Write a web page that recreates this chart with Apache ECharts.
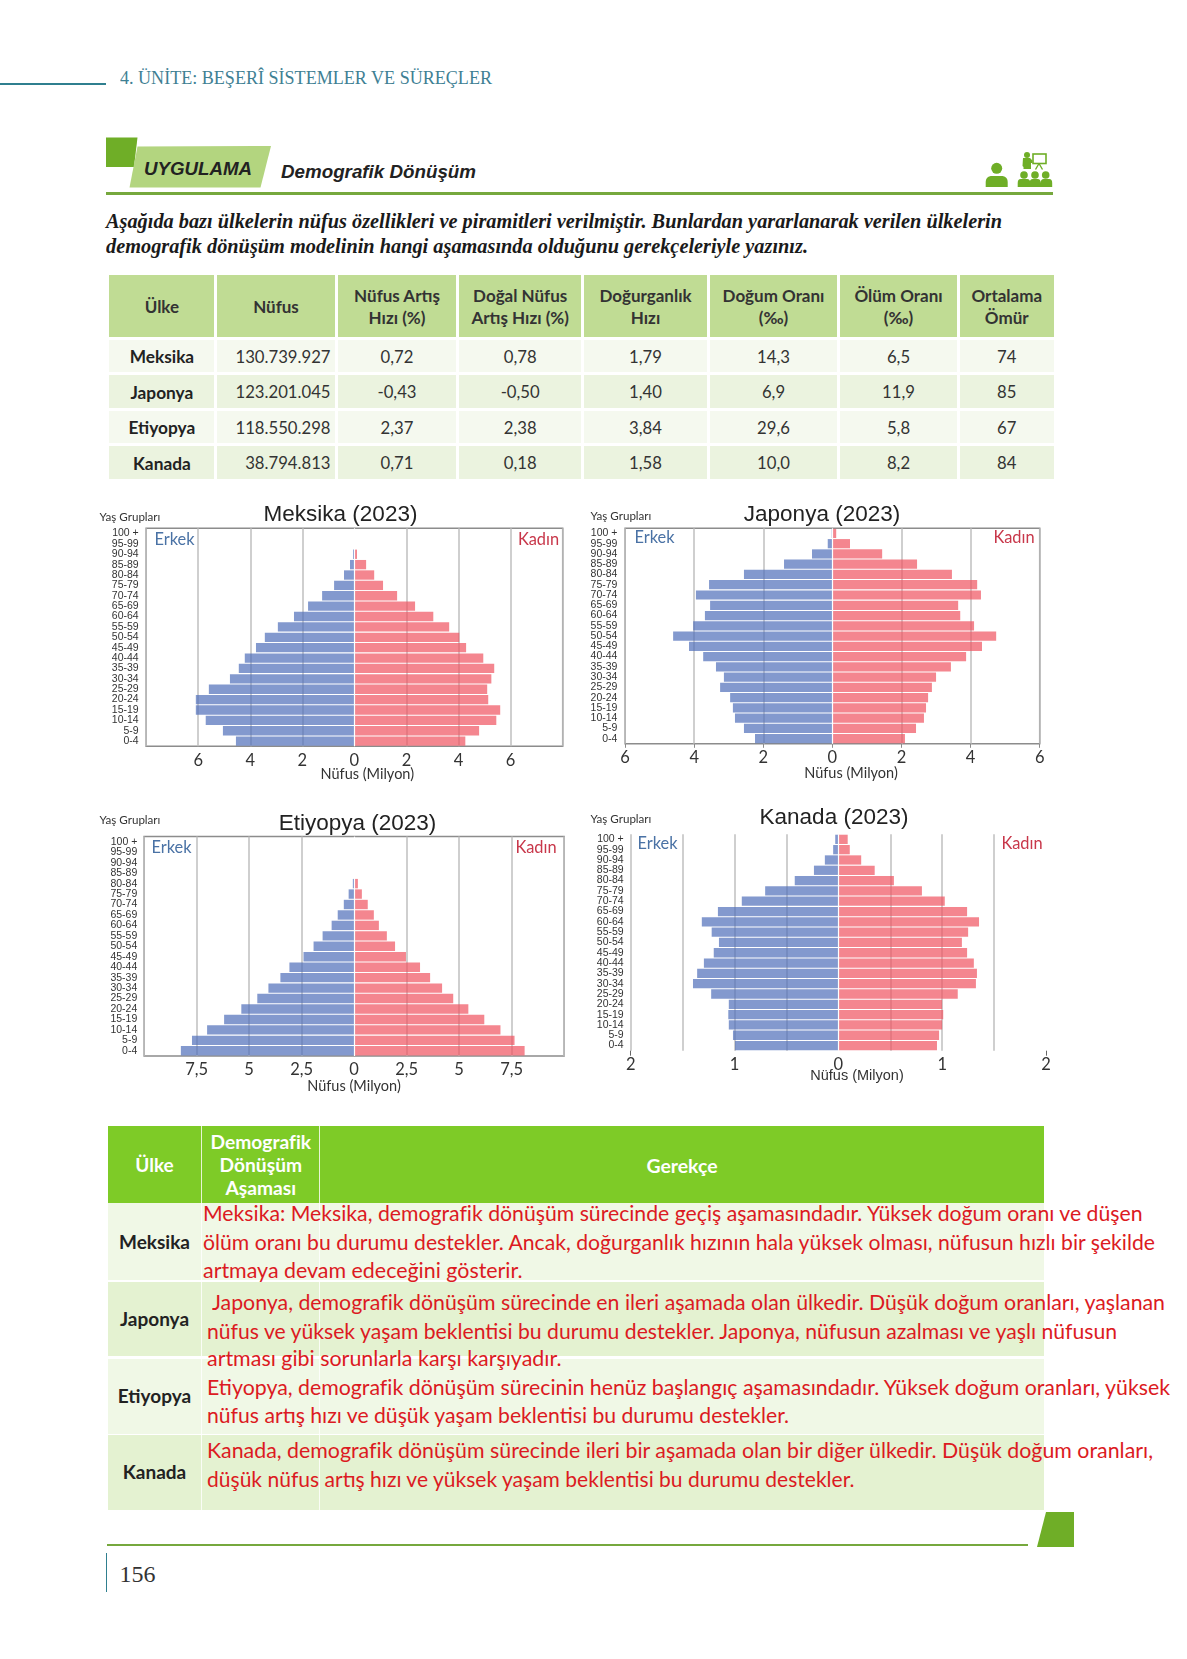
<!DOCTYPE html>
<html lang="tr">
<head>
<meta charset="utf-8">
<style>
html,body{margin:0;padding:0;background:#fff;}
#page{position:relative;width:1187px;height:1659px;overflow:hidden;background:#fff;}
#chart{position:absolute;left:0;top:0;width:1187px;height:1659px;}
.t{position:absolute;white-space:pre;}
.b{position:absolute;}
svg{position:absolute;left:0;top:0;}
</style>
</head>
<body>
<div id="page">
<svg width="1187" height="1659" id="deco">
  <polygon points="106,137.5 137.5,137.5 134,167 106,167" fill="#6fae27"/>
  <polygon points="137.5,146.5 271,146 260.5,187.5 129.5,187.5" fill="#b3d57f"/>
  <polygon points="1046,1512 1074,1512 1074,1547 1037,1547" fill="#6fae27"/>
  <g fill="#6fae27">
    <!-- person -->
    <circle cx="996.700" cy="168.300" r="5.500"/>
    <path d="M985.700 187v-5q0-5 5-6h12q5 1 5 6v5z"/>
    <!-- presenter -->
    <circle cx="1027" cy="155" r="3"/>
    <path d="M1023 158h7l2.500 2.500v2.500h-1.500v6h-7.500v-2l-1-1z"/>
    <!-- listeners -->
    <circle cx="1024" cy="175" r="3.800"/><circle cx="1035" cy="175" r="3.800"/><circle cx="1045.700" cy="175" r="3.800"/>
    <path d="M1017.700 187v-4q0-4 3-4h6.500q3 0 3 4v4zM1029.700 187v-4q0-4 3-4h5q3 0 3 4v4zM1040.700 187v-4q0-4 3-4h5.500q3 0 3 4v4z"/>
  </g>
  <rect x="1033" y="154" width="13" height="9.500" fill="#fff" stroke="#6fae27" stroke-width="1.600"/>
  <path d="M1039 163.500l-3.500 6M1039 163.500l3.500 6" stroke="#6fae27" stroke-width="1.400" fill="none"/>
</svg>
<div id="chart"></div>
</div>
<script src="https://cdn.jsdelivr.net/npm/echarts@6/dist/echarts.min.js"></script>
<script>
// ---------- chart values (millions), top row = oldest group ----------
const ageGroups = ['100 +','95-99','90-94','85-89','80-84','75-79','70-74','65-69','60-64','55-59','50-54','45-49','40-44','35-39','30-34','25-29','20-24','15-19','10-14','5-9','0-4'];
const meksikaErkek = [0,0,0.05,0.17,0.40,0.78,1.24,1.78,2.32,2.94,3.44,3.78,4.21,4.44,4.78,5.59,6.09,6.09,5.71,5.05,4.55];
const meksikaKadin = [0,0,0.10,0.45,0.76,1.10,1.64,2.33,3.03,3.64,4.03,4.29,4.95,5.37,5.26,5.10,5.14,5.60,5.45,4.79,4.26];
const japonyaErkek = [0.02,0.135,0.59,1.40,2.56,3.57,3.95,3.54,3.69,4.03,4.61,4.15,3.74,3.37,3.14,3.25,2.96,2.88,2.82,2.56,2.24];
const japonyaKadin = [0.11,0.51,1.44,2.45,3.46,4.19,4.30,3.64,3.70,4.10,4.74,4.33,3.87,3.43,3.00,2.88,2.77,2.71,2.65,2.42,2.10];
const etiyopyaErkek = [0,0,0,0,0.06,0.26,0.49,0.78,1.07,1.50,1.93,2.41,3.08,3.51,4.08,4.61,5.37,6.19,7.00,7.72,8.25];
const etiyopyaKadin = [0,0,0,0,0.18,0.37,0.65,0.94,1.18,1.56,1.95,2.47,3.14,3.62,4.19,4.72,5.44,6.20,6.97,7.64,8.12];
const kanadaErkek = [0.03,0.05,0.13,0.235,0.42,0.705,0.93,1.16,1.315,1.22,1.15,1.20,1.295,1.36,1.40,1.225,1.055,1.06,1.055,1.015,0.995];
const kanadaKadin = [0.09,0.11,0.22,0.35,0.535,0.805,1.025,1.24,1.355,1.25,1.19,1.24,1.305,1.335,1.325,1.15,1.00,1.01,1.00,0.97,0.95];
// ---------- table values ----------
const tableHead = [['Ülke'],['Nüfus'],['Nüfus Artış','Hızı (%)'],['Doğal Nüfus','Artış Hızı (%)'],['Doğurganlık','Hızı'],['Doğum Oranı','(‰)'],['Ölüm Oranı','(‰)'],['Ortalama','Ömür']];
const tableRows = [
  ['Meksika','130.739.927','0,72','0,78','1,79','14,3','6,5','74'],
  ['Japonya','123.201.045','-0,43','-0,50','1,40','6,9','11,9','85'],
  ['Etiyopya','118.550.298','2,37','2,38','3,84','29,6','5,8','67'],
  ['Kanada','38.794.813','0,71','0,18','1,58','10,0','8,2','84']
];
const reasonLines = [
  'Meksika: Meksika, demografik dönüşüm sürecinde geçiş aşamasındadır. Yüksek doğum oranı ve düşen',
  'ölüm oranı bu durumu destekler. Ancak, doğurganlık hızının hala yüksek olması, nüfusun hızlı bir şekilde',
  'artmaya devam edeceğini gösterir.',
  'Japonya, demografik dönüşüm sürecinde en ileri aşamada olan ülkedir. Düşük doğum oranları, yaşlanan',
  'nüfus ve yüksek yaşam beklentisi bu durumu destekler. Japonya, nüfusun azalması ve yaşlı nüfusun',
  'artması gibi sorunlarla karşı karşıyadır.',
  'Etiyopya, demografik dönüşüm sürecinin henüz başlangıç aşamasındadır. Yüksek doğum oranları, yüksek',
  'nüfus artış hızı ve düşük yaşam beklentisi bu durumu destekler.',
  'Kanada, demografik dönüşüm sürecinde ileri bir aşamada olan bir diğer ülkedir. Düşük doğum oranları,',
  'düşük nüfus artış hızı ve yüksek yaşam beklentisi bu durumu destekler.'
];

// ---------- page furniture ----------
const page = document.getElementById('page');
const deco = document.getElementById('chart');
const LATO = 'Lato, "Open Sans", sans-serif', SANS = '"Liberation Sans", Arial, sans-serif', SERIF = '"Liberation Serif", "Times New Roman", serif';
function box(x, y, w, h, c) {
  const d = document.createElement('div'); d.className = 'b';
  d.style.cssText = `left:${x}px;top:${y}px;width:${w}px;height:${h}px;background:${c};`;
  page.insertBefore(d, deco); return d;
}
function text(s, o) {
  const d = document.createElement('div'); d.className = 't'; d.textContent = s;
  const lh = o.size * 1.4;
  d.style.cssText = `left:${o.x}px;top:${o.y - lh / 2}px;line-height:${lh}px;font-family:${o.font || LATO};font-size:${o.size}px;` +
    `font-weight:${o.weight || 400};font-style:${o.italic ? 'italic' : 'normal'};color:${o.color || '#333'};`;
  page.insertBefore(d, deco);
  const nat = d.getBoundingClientRect().width;
  const sx = o.w ? o.w / nat : 1;
  if (o.center) { d.style.transformOrigin = '0 50%'; d.style.transform = `translateX(${-nat * sx / 2}px) scaleX(${sx})`; }
  else { d.style.transformOrigin = '0 50%'; d.style.transform = `scaleX(${sx})`; }
  return d;
}
box(0, 83, 106, 1.5, '#2f7f8f');
text('4. ÜNİTE: BEŞERÎ SİSTEMLER VE SÜREÇLER', {x:119.5, y:78.5, w:372, size:18.5, font:SERIF, color:'#3e8093'});
text('UYGULAMA', {x:144, y:169, w:108, size:17.5, weight:700, italic:true, font:SANS, color:'#222'});
text('Demografik Dönüşüm', {x:280.5, y:172.5, w:195, size:18, weight:700, italic:true, font:SANS, color:'#222'});
box(106, 191.5, 947, 3, '#76a83d');
text('Aşağıda bazı ülkelerin nüfus özellikleri ve piramitleri verilmiştir. Bunlardan yararlanarak verilen ülkelerin', {x:106, y:220.5, w:896, size:20, weight:700, italic:true, font:SERIF, color:'#1a1a1a'});
text('demografik dönüşüm modelinin hangi aşamasında olduğunu gerekçeleriyle yazınız.', {x:106, y:245.5, w:702, size:20, weight:700, italic:true, font:SERIF, color:'#1a1a1a'});

// top table
const colEdges = [[109.3,214.5],[217,335],[338,456],[459,581.4],[584,707],[710,837],[840,957],[959.5,1054]];
const rowEdges = [[340,372],[375,408],[411,443],[446,479]];
const rowFills = ['#f5f9ef','#ebf3df','#f5f9ef','#ebf3df'];
tableHead.forEach((lines, c) => {
  const [x0, x1] = colEdges[c];
  box(x0, 275, x1 - x0, 62, '#c0dc94');
  lines.forEach((l, i) => {
    const y = lines.length === 1 ? 306.5 : 295.5 + i * 22.5;
    text(l, {x:(x0 + x1) / 2, y, center:true, size:17, weight:700});
  });
});
tableRows.forEach((row, r) => {
  const [y0, y1] = rowEdges[r];
  row.forEach((v, c) => {
    const [x0, x1] = colEdges[c];
    box(x0, y0, x1 - x0, y1 - y0, rowFills[r]);
    const y = (y0 + y1) / 2 + 1.2;
    if (c === 1) { const d = text(v, {x:0, y, size:16.7}); d.style.left = (330.5 - d.getBoundingClientRect().width) + 'px'; }
    else text(v, {x:(x0 + x1) / 2, y, center:true, size:c === 0 ? 17.3 : 16.7, weight:c === 0 ? 700 : 400, color:c === 0 ? '#222' : '#333'});
  });
});

// bottom table
box(108, 1125.7, 936, 77.5, '#7ecb27');
box(201, 1125.7, 1, 77.5, '#e8f5d5'); box(319, 1125.7, 1, 77.5, '#e8f5d5');
text('Ülke', {x:154.5, y:1165.5, center:true, size:19, weight:700, color:'#fff'});
['Demografik','Dönüşüm','Aşaması'].forEach((l, i) => text(l, {x:260.8, y:1142 + i * 23.2, center:true, size:19.2, weight:700, color:'#fff'}));
text('Gerekçe', {x:682, y:1165.5, center:true, size:19.4, weight:700, color:'#fff'});
[[1203,77,'#f0f8e6',1242,'Meksika'],[1281.5,74.5,'#e4f2d1',1319,'Japonya'],[1358.5,75,'#f0f8e6',1396.5,'Etiyopya'],[1435,74.7,'#e4f2d1',1472.5,'Kanada']].forEach(([y, h, c, ty, n]) => {
  box(108, y, 936, h, c);
  box(201, y, 1, h, 'rgba(255,255,255,.8)'); box(319, y, 1, h, 'rgba(255,255,255,.8)');
  text(n, {x:154.5, y:ty, center:true, size:19, weight:700, color:'#222'});
});
const reasonX = [203,203,203,211.5,206.5,206.5,206.5,206.5,206.5,206.5];
const reasonW = [939.5,952,319.5,953,910,354.5,963,582,946,647.5];
const reasonY = [1213.5,1242,1270.5,1302.5,1331,1358.5,1387,1415.5,1450.5,1479];
reasonLines.forEach((l, i) => text(l, {x:reasonX[i], y:reasonY[i], w:reasonW[i], size:20.5, color:'#dc1a22'}));

// footer
box(107, 1543.5, 921, 2.5, '#76a83d');
box(106, 1553, 1, 39, '#2f7f8f');
text('156', {x:119.5, y:1575, size:24, font:SERIF, color:'#333'});

// ---------- pyramids ----------
const chart = echarts.init(deco, null, {renderer:'canvas', width:1187, height:1659});
const GRID = '#bfbfbf', FRAME = '#8c8c8c';
const M_COLOR = 'rgba(79,109,185,.7)', F_COLOR = 'rgba(239,82,95,.7)';
const pyramids = [
  {name:'Meksika (2023)', m:meksikaErkek, f:meksikaKadin, left:146.1, top:528.3, w:416.6, h:218, range:8, step:2, frame:true,
   titleAt:[340.5,515], ageAt:[130,517], erkekAt:[174.5,540], kadinAt:[538.5,540], nameAt:[367.3,774.3], margin:7.4, lblMargin:6},
  {name:'Japonya (2023)', m:japonyaErkek, f:japonyaKadin, left:625.1, top:528.3, w:414.6, h:215.5, range:6, step:2, frame:true, ticks:true,
   titleAt:[822,514.5], ageAt:[621,516], erkekAt:[654.5,537.3], kadinAt:[1014,537.3], nameAt:[851,773.3], margin:7.7, lblMargin:5.5},
  {name:'Etiyopya (2023)', m:etiyopyaErkek, f:etiyopyaKadin, left:144.1, top:836.6, w:420, h:219.4, range:10, step:2.5, frame:true,
   titleAt:[357.5,824], ageAt:[130,820], erkekAt:[171.5,847.7], kadinAt:[536,847.7], nameAt:[354,1086], margin:6.8, lblMargin:5.5},
  {name:'Kanada (2023)', m:kanadaErkek, f:kanadaKadin, left:630.7, top:834.2, w:415.3, h:216.5, range:2, step:0.5, frame:false, tickEnds:true,
   titleAt:[834,817.5], ageAt:[621,819], erkekAt:[657.5,843.7], kadinAt:[1022,843.7], nameAt:[857,1076], margin:7, lblMargin:5.5, nameFont:SANS}
];
const fmt = v => String(Math.abs(v)).replace('.', ',');
const option = {animation:false, grid:[], xAxis:[], yAxis:[], series:[], title:[]};
const label = (t, at, size, color, font) => ({text:t, left:at[0], top:at[1], textAlign:'center', textVerticalAlign:'middle', padding:0,
  textStyle:{fontFamily:font || LATO, fontSize:size, fontWeight:400, color}});
pyramids.forEach((p, i) => {
  option.grid.push({left:p.left, top:p.top, width:p.w, height:p.h, show:p.frame, borderColor:FRAME, borderWidth:1.5, backgroundColor:'transparent'});
  const nTicks = Math.round(2 * p.range / p.step) + 1;
  const lineColors = Array.from({length:nTicks}, (_, k) => {
    if (k === (nTicks - 1) / 2) return 'transparent';
    if (!p.frame && k === nTicks - 1) return 'transparent';
    return GRID;
  });
  const showEnds = !!(p.ticks || p.tickEnds);
  option.xAxis.push({type:'value', gridIndex:i, min:-p.range, max:p.range, interval:p.step, position:'bottom',
    axisLine:{show:false, onZero:false},
    axisTick:p.ticks ? {show:true, length:4, lineStyle:{color:FRAME}} : {show:false},
    splitLine:{show:true, lineStyle:{color:lineColors, width:1.5}},
    axisLabel:{margin:p.lblMargin, fontFamily:LATO, fontSize:16.5, color:'#333',
      showMinLabel:showEnds, showMaxLabel:showEnds, hideOverlap:false,
      formatter:v => (p.tickEnds && !Number.isInteger(v)) ? '' : fmt(v)}});
  option.yAxis.push({type:'category', gridIndex:i, data:ageGroups, inverse:true,
    axisLine:{show:false, onZero:false}, axisTick:{show:false}, splitLine:{show:false},
    axisLabel:{interval:0, margin:p.margin, align:'right', fontFamily:SANS, fontSize:10.5, color:'#333', lineHeight:10, padding:[2,0,0,0]}});
  const common = {type:'bar', xAxisIndex:i, yAxisIndex:i, stack:'p' + i, barCategoryGap:'10%', silent:true};
  option.series.push({...common, name:p.name + ' Erkek', data:p.m.map(v => -v), itemStyle:{color:M_COLOR}});
  option.series.push({...common, name:p.name + ' Kadın', data:p.f, itemStyle:{color:F_COLOR},
    markLine:{silent:true, symbol:'none', label:{show:false}, lineStyle:{color:'#fff', width:1.2, type:'solid'}, data:[{xAxis:0}]}});
  option.title.push(label(p.name, p.titleAt, 22.5, '#222', SANS));
  option.title.push(label('Yaş Grupları', p.ageAt, 11.6, '#333'));
  option.title.push(label('Erkek', p.erkekAt, 16.4, '#4a72a5'));
  option.title.push(label('Kadın', p.kadinAt, 16.4, '#c8374a'));
  option.title.push(label('Nüfus (Milyon)', p.nameAt, 14.5, '#333', p.nameFont));
});
// extra tick-only axis for the two end ticks of the Kanada pyramid
const kanadaIdx = pyramids.findIndex(p => p.tickEnds);
const kanadaP = pyramids[kanadaIdx];
option.xAxis.push({type:'value', gridIndex:kanadaIdx, min:-kanadaP.range, max:kanadaP.range, position:'bottom',
  axisLine:{show:false, onZero:false}, splitLine:{show:false}, axisLabel:{show:false},
  axisTick:{show:true, length:5, customValues:[-kanadaP.range, kanadaP.range], lineStyle:{color:'#666'}}});
chart.setOption(option);
</script>
</body>
</html>
